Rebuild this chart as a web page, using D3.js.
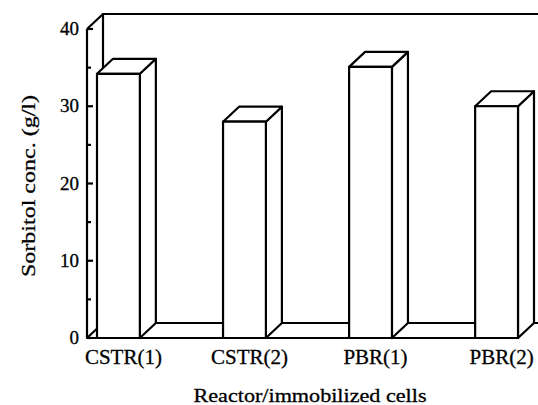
<!DOCTYPE html>
<html>
<head>
<meta charset="utf-8">
<script src="https://cdn.jsdelivr.net/npm/d3@7"></script>
<style>
  body { margin: 0; background: #fff; }
  text { font-family: "Liberation Serif", "DejaVu Serif", serif; fill: #000; stroke: #000; stroke-width: 0.3px; }
</style>
</head>
<body>
<div id="chart"></div>
<script>
// data
var categories = ["CSTR(1)", "CSTR(2)", "PBR(1)", "PBR(2)"];
var values = [34.2, 28.0, 35.1, 30.0];
var majorTicks = [0, 10, 20, 30, 40];
var minorTicks = [5, 15, 25, 35];

var width = 538, height = 405;
var depth = { dx: 16, dy: -15 };   // 3d offset of the back plane

var svg = d3.select("#chart")
  .append("svg")
  .attr("width", width)
  .attr("height", height);

// scales
var y = d3.scaleLinear().domain([0, 40]).range([338, 29]);
var x = d3.scaleBand().domain(categories).range([97, 518]).paddingInner(0.66).paddingOuter(0);

var axisX = 87;
var y0 = y(0);

var lines = svg.append("g")
  .attr("fill", "none")
  .attr("stroke", "#000")
  .attr("stroke-width", 2.2)
  .attr("stroke-linejoin", "round");

// back wall: top edge and left edge
lines.append("path")
  .attr("d", "M" + width + "," + (y(40) + depth.dy) +
             "H" + (axisX + depth.dx) +
             "V" + (y0 + depth.dy));
// left wall top diagonal
lines.append("path")
  .attr("d", "M" + axisX + "," + y(40) + "L" + (axisX + depth.dx) + "," + (y(40) + depth.dy));
// floor back edge and left wall bottom diagonal
lines.append("path")
  .attr("d", "M" + axisX + "," + y0 + "L" + (axisX + depth.dx) + "," + (y0 + depth.dy) + "H" + width);
// front axis + floor front edge
lines.append("path")
  .attr("d", "M" + axisX + "," + y(40) + "V" + y0 + "H" + (x(categories[3]) + x.bandwidth()));

// ticks pointing inward
lines.selectAll(".major")
  .data(majorTicks)
  .enter()
  .append("line")
  .attr("x1", axisX).attr("x2", axisX + 6)
  .attr("y1", function (d) { return y(d); })
  .attr("y2", function (d) { return y(d); });
lines.selectAll(".minor")
  .data(minorTicks)
  .enter()
  .append("line")
  .attr("x1", axisX).attr("x2", axisX + 4)
  .attr("y1", function (d) { return y(d); })
  .attr("y2", function (d) { return y(d); });

// bars
var bars = svg.selectAll(".bar")
  .data(categories.map(function (c, i) { return { cat: c, value: values[i] }; }))
  .enter()
  .append("g")
  .attr("class", "bar")
  .attr("fill", "#fff")
  .attr("stroke", "#000")
  .attr("stroke-width", 2.2)
  .attr("stroke-linejoin", "round");

bars.append("path") // side
  .attr("d", function (d) {
    var x1 = x(d.cat) + x.bandwidth(), yt = y(d.value);
    return "M" + x1 + "," + yt + "L" + (x1 + depth.dx) + "," + (yt + depth.dy) +
           "L" + (x1 + depth.dx) + "," + (y0 + depth.dy) + "L" + x1 + "," + y0 + "Z";
  });
bars.append("path") // top
  .attr("d", function (d) {
    var x0 = x(d.cat), x1 = x0 + x.bandwidth(), yt = y(d.value);
    return "M" + x0 + "," + yt + "L" + (x0 + depth.dx) + "," + (yt + depth.dy) +
           "L" + (x1 + depth.dx) + "," + (yt + depth.dy) + "L" + x1 + "," + yt + "Z";
  });
bars.append("rect") // front
  .attr("x", function (d) { return x(d.cat); })
  .attr("y", function (d) { return y(d.value); })
  .attr("width", x.bandwidth())
  .attr("height", function (d) { return y0 - y(d.value); });

// tick labels
svg.selectAll(".ylab")
  .data(majorTicks)
  .enter()
  .append("text")
  .attr("x", 79)
  .attr("y", function (d) { return y(d) + 6; })
  .attr("text-anchor", "end")
  .style("font-size", "19px")
  .text(function (d) { return d; });

svg.selectAll(".xlab")
  .data(categories)
  .enter()
  .append("text")
  .attr("x", function (d) { return x(d) + x.bandwidth() / 2 + 5; })
  .attr("y", 364)
  .attr("text-anchor", "middle")
  .style("font-size", "21px")
  .text(function (d) { return d; });

// axis titles
svg.append("text")
  .attr("x", 310)
  .attr("y", 402)
  .attr("text-anchor", "middle")
  .style("font-size", "19px")
  .attr("textLength", 233)
  .attr("lengthAdjust", "spacingAndGlyphs")
  .text("Reactor/immobilized cells");

svg.append("text")
  .attr("transform", "translate(35,186) rotate(-90)")
  .attr("text-anchor", "middle")
  .style("font-size", "19px")
  .attr("textLength", 182)
  .attr("lengthAdjust", "spacingAndGlyphs")
  .text("Sorbitol conc. (g/l)");
</script>
</body>
</html>
